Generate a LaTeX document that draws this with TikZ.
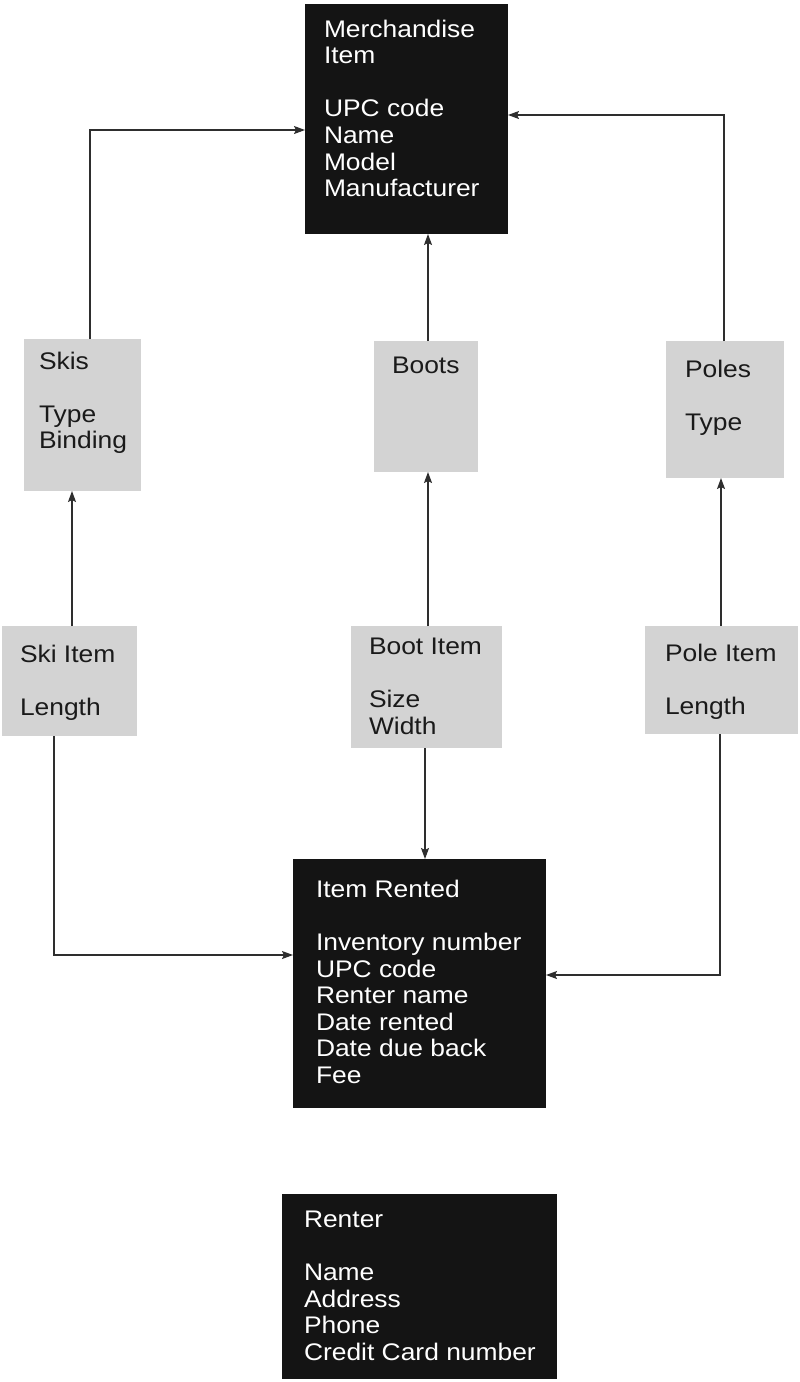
\documentclass[tikz,border=0pt]{standalone}
\usepackage{fontspec}
\setmainfont{Liberation Sans}[FakeStretch=1.1]
\usepackage{xcolor}
\usepackage{tikz}
\usetikzlibrary{arrows.meta,positioning}
\definecolor{boxblack}{HTML}{141414}
\definecolor{boxgrey}{HTML}{D3D3D3}
\definecolor{ink}{HTML}{1A1A1A}
\definecolor{wire}{HTML}{2E2E2E}
\tikzset{
    every picture/.style={line join=miter},
    entitybox/.style={draw=none,inner sep=0pt,outer sep=0pt,anchor=north west},
    darkbox/.style={entitybox,fill=boxblack},
    greybox/.style={entitybox,fill=boxgrey},
    boxtext/.style={inner sep=0pt,outer sep=0pt,align=left,
      font=\fontsize{24}{26.6}\selectfont},
    whitetext/.style={boxtext,text=white},
    darktext/.style={boxtext,text=ink},
    linkarrow/.style={-{Stealth[length=11pt,width=8pt,inset=2pt]},draw=wire,
      line width=1.2pt}
}

\begin{document}
\begin{tikzpicture}[x=1pt,y=-1pt]
  \useasboundingbox (0,0) rectangle (800,1382);
  % entity boxes
  \node[darkbox,minimum width=203pt,minimum height=230pt] (merch) at (305,4) {};
  \node[greybox,minimum width=117pt,minimum height=152pt] (skis) at (24,339) {};
  \node[greybox,minimum width=104pt,minimum height=131pt] (boots) at (374,341) {};
  \node[greybox,minimum width=118pt,minimum height=137pt] (poles) at (666,341) {};
  \node[greybox,minimum width=135pt,minimum height=110pt] (skiitem) at (2,626) {};
  \node[greybox,minimum width=151pt,minimum height=122pt] (bootitem) at (351,626) {};
  \node[greybox,minimum width=153pt,minimum height=108pt] (poleitem) at (645,626) {};
  \node[darkbox,minimum width=253pt,minimum height=249pt] (rented) at (293,859) {};
  \node[darkbox,minimum width=275pt,minimum height=185pt] (renter) at (282,1194) {};
  % attribute lists
  \node[whitetext,below right=15.8pt and 19pt of merch.north west] (merchtxt)
    {Merchandise\\Item\\[\baselineskip]UPC code\\Name\\Model\\Manufacturer};
  \node[darktext,below right=12.8pt and 15pt of skis.north west] (skistxt)
    {Skis\\[\baselineskip]Type\\Binding};
  \node[darktext,below right=15.8pt and 18pt of boots.north west] (bootstxt) {Boots};
  \node[darktext,below right=18.8pt and 19pt of poles.north west] (polestxt)
    {Poles\\[\baselineskip]Type};
  \node[darktext,below right=18.8pt and 18pt of skiitem.north west] (skiitemtxt)
    {Ski Item\\[\baselineskip]Length};
  \node[darktext,below right=11.8pt and 18pt of bootitem.north west] (bootitemtxt)
    {Boot Item\\[\baselineskip]Size\\Width};
  \node[darktext,below right=17.8pt and 20pt of poleitem.north west] (poleitemtxt)
    {Pole Item\\[\baselineskip]Length};
  \node[whitetext,below right=20.8pt and 23pt of rented.north west] (rentedtxt)
    {Item Rented\\[\baselineskip]Inventory number\\UPC code\\Renter name\\
     Date rented\\Date due back\\Fee};
  \node[whitetext,below right=16.8pt and 22pt of renter.north west] (rentertxt)
    {Renter\\[\baselineskip]Name\\Address\\Phone\\Credit Card number};
  % links up to merchandise item
  \draw[linkarrow] ([xshift=7.5pt]skis.north) |- ([yshift=-11pt]merch.west);
  \draw[linkarrow] ([xshift=2pt]boots.north) -- ([xshift=2pt]boots.north |- merch.south);
  \draw[linkarrow] ([xshift=-1pt]poles.north) |- ([yshift=4pt]merch.east);
  % links from items to kinds
  \draw[linkarrow] ([xshift=2.5pt]skiitem.north) -- ([xshift=2.5pt]skiitem.north |- skis.south);
  \draw[linkarrow] ([xshift=1.5pt]bootitem.north) -- ([xshift=1.5pt]bootitem.north |- boots.south);
  \draw[linkarrow] ([xshift=-0.5pt]poleitem.north) -- ([xshift=-0.5pt]poleitem.north |- poles.south);
  % links down to item rented
  \draw[linkarrow] ([xshift=-15.5pt]skiitem.south) |- ([yshift=28.5pt]rented.west);
  \draw[linkarrow] ([xshift=-1.5pt]bootitem.south) -- ([xshift=-1.5pt]bootitem.south |- rented.north);
  \draw[linkarrow] ([xshift=-1.5pt]poleitem.south) |- ([yshift=8.5pt]rented.east);
\end{tikzpicture}
\end{document}
